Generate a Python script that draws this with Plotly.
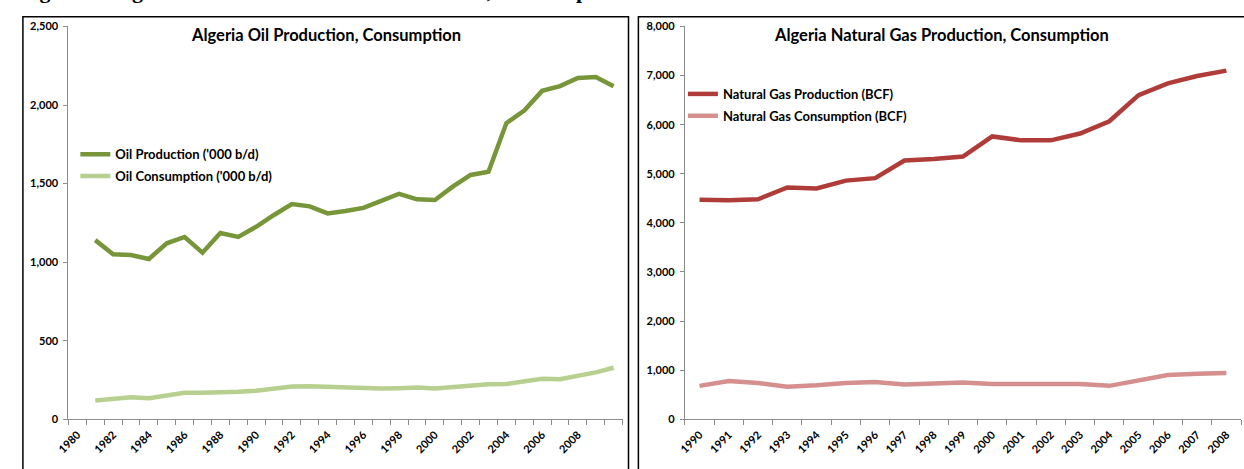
import plotly.graph_objects as go

# oil chart data ('000 b/d), years 1981-2010 on a 1980-2010 category axis
oil_years = list(range(1981, 2011))
oil_production = [1140, 1050, 1045, 1020, 1120, 1160, 1060, 1185, 1160, 1225,
                  1300, 1370, 1355, 1310, 1325, 1345, 1390, 1435, 1400, 1395,
                  1480, 1555, 1575, 1885, 1965, 2090, 2120, 2172, 2178, 2120]
oil_consumption = [120, 128, 140, 134, 150, 168, 168, 168, 175, 181,
                   194, 208, 210, 206, 204, 202, 196, 198, 202, 196,
                   206, 217, 223, 225, 240, 258, 255, 275, 298, 328]
oil_tick_years = list(range(1980, 2009, 2))

# natural gas chart data (BCF)
gas_years = list(range(1990, 2009))
gas_production = [4470, 4460, 4480, 4720, 4700, 4860, 4910, 5270, 5300, 5350,
                  5760, 5680, 5680, 5820, 6070, 6600, 6840, 6990, 7100]
gas_consumption = [680, 780, 740, 660, 690, 740, 760, 710, 730, 750,
                   720, 720, 720, 720, 680, 800, 900, 925, 940]

W, H = 1244, 469
FONT = "Lato"


def px(x):
    return x / W


def py(y):
    return (H - y) / H


fig = go.Figure()

fig.add_trace(go.Scatter(x=oil_years, y=oil_production, mode="lines",
                         name="Oil Production ('000 b/d)", legendgroup="op",
                         line=dict(color="#77963a", width=4.5),
                         xaxis="x", yaxis="y", legend="legend"))
fig.add_trace(go.Scatter(x=oil_years, y=oil_consumption, mode="lines",
                         name="Oil Consumption ('000 b/d)", legendgroup="oc",
                         line=dict(color="#b8d08f", width=4.5),
                         xaxis="x", yaxis="y", legend="legend"))
fig.add_trace(go.Scatter(x=gas_years, y=gas_production, mode="lines",
                         name="Natural Gas Production (BCF)", legendgroup="gp",
                         line=dict(color="#b03c3a", width=4.5),
                         xaxis="x2", yaxis="y2", legend="legend2"))
fig.add_trace(go.Scatter(x=gas_years, y=gas_consumption, mode="lines",
                         name="Natural Gas Consumption (BCF)", legendgroup="gc",
                         line=dict(color="#d58f8e", width=4.5),
                         xaxis="x2", yaxis="y2", legend="legend2"))

axis_common = dict(showline=True, linecolor="#8c8c8c", linewidth=1,
                   showgrid=False, zeroline=False,
                   tickfont=dict(family=FONT, size=11, color="black", weight="bold"))

ydom = [py(424), py(20)]
legend_font = dict(family=FONT, size=13, color="black", weight="bold")

fig.update_layout(
    width=W, height=H,
    margin=dict(l=0, r=0, t=0, b=0),
    paper_bgcolor="white", plot_bgcolor="white",
    font=dict(family=FONT),
    xaxis=dict(domain=[px(56), px(616)], range=[1979.5, 2010.5],
               tickmode="array", tickvals=oil_tick_years,
               ticktext=[str(v) for v in oil_tick_years],
               tickangle=-45, ticks="", ticklabelstandoff=4,
               minor=dict(tickmode="array",
                          tickvals=[1979.5 + i for i in range(32)],
                          ticks="outside", ticklen=5, tickcolor="#8c8c8c"),
               anchor="y", **axis_common),
    yaxis=dict(domain=ydom, range=[0, 2500], tickvals=[0, 500, 1000, 1500, 2000, 2500],
               tickformat=",", ticks="outside", ticklen=4, tickcolor="#8c8c8c",
               ticklabelstandoff=3, anchor="x", **axis_common),
    xaxis2=dict(domain=[px(679), px(1241)], range=[1989.5, 2008.5],
                tickmode="array", tickvals=gas_years,
                ticktext=[str(v) for v in gas_years],
                tickangle=-45, ticks="", ticklabelstandoff=4,
                minor=dict(tickmode="array",
                           tickvals=[1989.5 + i for i in range(20)],
                           ticks="outside", ticklen=5, tickcolor="#8c8c8c"),
                anchor="y2", **axis_common),
    yaxis2=dict(domain=ydom, range=[0, 8000], tickvals=list(range(0, 8001, 1000)),
                tickformat=",", ticks="outside", ticklen=4, tickcolor="#8c8c8c",
                ticklabelstandoff=3, anchor="x2", **axis_common),
    legend=dict(x=px(63), y=py(136), xanchor="left", yanchor="top",
                bgcolor="rgba(0,0,0,0)", itemwidth=30, tracegroupgap=2,
                font=legend_font),
    legend2=dict(x=px(677), y=py(74), xanchor="left", yanchor="top",
                 bgcolor="rgba(0,0,0,0)", itemwidth=30, tracegroupgap=2,
                 font=legend_font),
    showlegend=True,
)

# panel frames
fig.add_shape(type="rect", xref="paper", yref="paper",
              x0=px(10), x1=px(622), y0=-0.1, y1=py(10),
              line=dict(color="black", width=1.5), layer="below")
fig.add_shape(type="rect", xref="paper", yref="paper",
              x0=px(632), x1=1.1, y0=-0.1, y1=py(10),
              line=dict(color="black", width=1.5), layer="below")

# chart titles
fig.add_annotation(text="<b>Algeria Oil Production, Consumption</b>",
                   xref="paper", yref="paper", x=px(316), y=py(29),
                   xanchor="center", yanchor="middle",
                   showarrow=False, font=dict(family=FONT, size=16.5, color="black"))
fig.add_annotation(text="<b>Algeria Natural Gas Production, Consumption</b>",
                   xref="paper", yref="paper", x=px(938), y=py(29),
                   xanchor="center", yanchor="middle",
                   showarrow=False, font=dict(family=FONT, size=16.5, color="black"))

# page caption above the charts, mostly cut off at the top edge
fig.add_annotation(text="<b>Figure 7: Algeria Oil and Natural Gas Production, Consumption</b>",
                   xref="paper", yref="paper", x=px(6), y=py(-3),
                   xanchor="left", yanchor="bottom", borderpad=0,
                   showarrow=False,
                   font=dict(family="Liberation Serif", size=22, color="black"))

fig.write_html("out.html", config={"displayModeBar": False},
               post_script="document.body.style.margin='0';"
                           "document.body.style.overflow='hidden';")
